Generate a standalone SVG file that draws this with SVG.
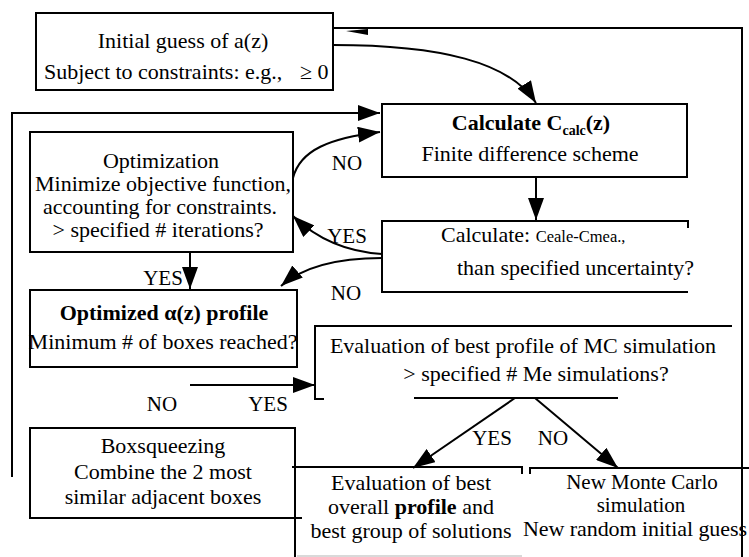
<svg xmlns="http://www.w3.org/2000/svg" width="749" height="557" viewBox="0 0 749 557">
<style>
text{font-family:"Liberation Serif","Times New Roman",serif;font-size:22px;fill:#000}
.c{text-anchor:middle}
.b{font-weight:bold}
.s{font-size:21px}
.lbl{font-size:21px;text-anchor:middle}
.box{fill:none;stroke:#000;stroke-width:2}
.ln{fill:none;stroke:#000;stroke-width:2}
</style>
<defs>
<marker id="ah" markerUnits="userSpaceOnUse" markerWidth="24" markerHeight="16" refX="22" refY="8" orient="auto">
<path d="M0,0 L22,8 L0,16 z" fill="#000"/>
</marker>
</defs>
<rect width="749" height="557" fill="#fff"/>

<g id="connectors">
<path class="ln" d="M333,28 H742 V557"/>
<path d="M346,31 L368,29 L368,35 z" fill="#000"/>
<path class="ln" d="M333,45 C440,45 510,62 536,103" marker-end="url(#ah)"/>
<path class="ln" d="M12,477 V113 H380" marker-end="url(#ah)"/>
<path class="ln" d="M293,178 C300,150 330,138 380,132" marker-end="url(#ah)"/>
<path class="ln" d="M536,177 V220" marker-end="url(#ah)"/>
<path class="ln" d="M382,254 C350,252 320,242 293,216" marker-end="url(#ah)"/>
<path class="ln" d="M382,258 C340,258 305,265 281,286" marker-end="url(#ah)"/>
<path class="ln" d="M190,252 V289" marker-end="url(#ah)"/>
<path class="ln" d="M190,385 H315" marker-end="url(#ah)"/>
<path class="ln" d="M515,398 L413,468" marker-end="url(#ah)"/>
<path class="ln" d="M535,398 L618,468" marker-end="url(#ah)"/>
<text class="lbl" x="347" y="170">NO</text>
<text class="lbl" x="347" y="243">YES</text>
<text class="lbl" x="346" y="300">NO</text>
<text class="lbl" x="163" y="285">YES</text>
<text class="lbl" x="162" y="411">NO</text>
<text class="lbl" x="268" y="411">YES</text>
<text class="lbl" x="492" y="445">YES</text>
<text class="lbl" x="553" y="445">NO</text>
</g>

<g id="initial-guess">
<rect class="box" x="36" y="13" width="297" height="77"/>
<text class="c" x="183" y="48">Initial guess of a(z)</text>
<text x="44" y="79">Subject to constraints: e.g.,</text>
<text x="300" y="79">≥ 0</text>
</g>

<g id="calculate-ccalc">
<rect class="box" x="382" y="104" width="305" height="73"/>
<text class="c b" x="531" y="130">Calculate C<tspan font-size="14" dy="5">calc</tspan><tspan dy="-5">(z)</tspan></text>
<text class="c" x="530" y="161">Finite difference scheme</text>
</g>

<g id="calculate-diff">
<path class="box" d="M688,228 V221 H382 V292 H688"/>
<text x="441" y="242">Calculate: <tspan font-size="16.5">Ceale-Cmea.,</tspan></text>
<text x="457" y="275">than specified uncertainty?</text>
</g>

<g id="optimization">
<rect class="box" x="30" y="132" width="263" height="120"/>
<text class="c" x="161" y="168">Optimization</text>
<text class="c" x="163" y="191">Minimize objective function,</text>
<text class="c" x="160" y="214">accounting for constraints.</text>
<text class="c" x="158" y="237">&gt; specified # iterations?</text>
</g>

<g id="optimized-profile">
<rect class="box" x="30" y="290" width="267" height="77"/>
<text class="c b" x="164" y="320">Optimized α(z) profile</text>
<text class="c" x="163" y="349">Minimum # of boxes reached?</text>
</g>

<g id="evaluation-mc">
<path class="box" d="M315,400 V326 H732"/>
<path class="ln" d="M315,399 H324"/>
<text class="c" x="523" y="353">Evaluation of best profile of MC simulation</text>
<text class="c" x="536" y="381">&gt; specified # Me simulations?</text>
<path class="ln" d="M414,398 H618"/>
</g>

<g id="boxsqueezing">
<rect class="box" x="30" y="428" width="265" height="90"/>
<path class="ln" d="M295,518 H302"/>
<text class="c" x="163" y="453">Boxsqueezing</text>
<text class="c" x="163" y="479">Combine the 2 most</text>
<text class="c" x="163" y="504">similar adjacent boxes</text>
</g>

<g id="evaluation-overall">
<path class="box" d="M295,518 V557 M292,467 H522 V474"/>
<path d="M297,556 H522" stroke="#ccc" stroke-width="1.5" fill="none"/>
<text class="c" x="411" y="490">Evaluation of best</text>
<text class="c" x="411" y="514">overall <tspan class="b">profile</tspan> and</text>
<text class="c" x="411" y="538">best group of solutions</text>
</g>

<g id="new-monte-carlo">
<path class="box" d="M530,474 V468 H749"/>
<text class="c s" x="642" y="489">New Monte Carlo</text>
<text class="c s" x="641" y="512">simulation</text>
<text x="523" y="536" textLength="224" lengthAdjust="spacing">New random initial guess</text>
</g>
</svg>
